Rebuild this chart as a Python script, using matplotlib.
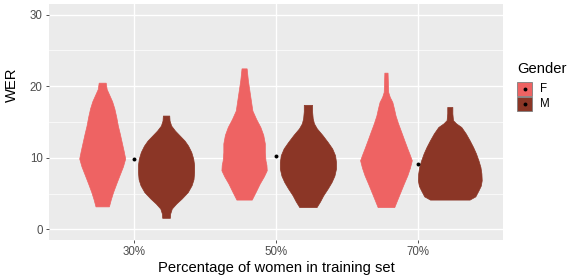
import numpy as np
import matplotlib
matplotlib.use('Agg')
import matplotlib.pyplot as plt
from matplotlib.patches import Rectangle
from matplotlib.lines import Line2D

plt.rcParams['font.family'] = ['Liberation Sans', 'DejaVu Sans']

# categories on the x axis
splits = ['30%', '50%', '70%']
genders = ['F', 'M']
colors = {'F': '#EE6363', 'M': '#8B3626'}

# mean WER per training split (black dots)
mean_wer = [9.8, 10.2, 9.1]

# violin outlines: WER levels and relative density (half width)
f30_wer = [3.2, 4.2, 5.2, 6.4, 7.55, 8.8, 9.9, 11.0, 12.2, 13.4, 14.5, 15.7, 16.9, 17.9, 18.7, 19.6, 20.5]
f30_dens = [0.21, 0.27, 0.34, 0.44, 0.54, 0.65, 0.72, 0.67, 0.61, 0.55, 0.49, 0.44, 0.38, 0.31, 0.23, 0.14, 0.11]
m30_wer = [1.6, 2.2, 2.9, 3.6, 4.3, 5.2, 6.15, 7.0, 8.0, 9.0, 9.9, 10.8, 11.7, 12.4, 13.1, 13.8, 14.5, 15.2, 15.9]
m30_dens = [0.12, 0.13, 0.18, 0.32, 0.49, 0.68, 0.80, 0.86, 0.88, 0.88, 0.85, 0.79, 0.69, 0.58, 0.43, 0.28, 0.16, 0.11, 0.10]
f50_wer = [4.15, 5.3, 6.4, 7.4, 8.25, 9.0, 9.65, 10.8, 12.0, 13.2, 14.3, 15.4, 16.6, 17.8, 19.0, 20.8, 22.5]
f50_dens = [0.24, 0.37, 0.49, 0.62, 0.71, 0.70, 0.67, 0.65, 0.65, 0.60, 0.51, 0.38, 0.26, 0.22, 0.18, 0.12, 0.08]
m50_wer = [3.1, 3.9, 4.75, 5.7, 6.6, 7.5, 8.5, 9.4, 10.35, 11.3, 12.2, 13.2, 14.1, 14.8, 15.5, 16.5, 17.4]
m50_dens = [0.27, 0.38, 0.48, 0.62, 0.74, 0.83, 0.88, 0.88, 0.85, 0.76, 0.62, 0.45, 0.28, 0.19, 0.15, 0.13, 0.13]
f70_wer = [3.1, 4.1, 5.2, 6.4, 7.55, 8.6, 9.65, 10.5, 11.3, 12.5, 13.6, 14.8, 15.9, 16.9, 17.8, 18.5, 19.2, 20.5, 21.9]
f70_dens = [0.26, 0.35, 0.45, 0.56, 0.67, 0.75, 0.81, 0.74, 0.67, 0.57, 0.48, 0.38, 0.30, 0.25, 0.20, 0.12, 0.07, 0.06, 0.05]
m70_wer = [4.15, 4.6, 5.45, 6.1, 6.85, 7.8, 8.7, 9.6, 10.6, 11.5, 12.45, 13.4, 14.3, 14.8, 15.25, 16.2, 17.1]
m70_dens = [0.62, 0.80, 0.90, 0.97, 1.0, 0.99, 0.96, 0.90, 0.82, 0.73, 0.62, 0.50, 0.36, 0.20, 0.10, 0.08, 0.08]

violins = {
    ('30%', 'F'): (f30_wer, f30_dens), ('30%', 'M'): (m30_wer, m30_dens),
    ('50%', 'F'): (f50_wer, f50_dens), ('50%', 'M'): (m50_wer, m50_dens),
    ('70%', 'F'): (f70_wer, f70_dens), ('70%', 'M'): (m70_wer, m70_dens),
}

DODGE = 0.225
HALF_WIDTH = 0.225


def draw_violin(ax, center, wer, dens, color):
    wer = np.asarray(wer)
    dens = np.asarray(dens) * HALF_WIDTH
    ax.fill_betweenx(wer, center - dens, center + dens, facecolor=color,
                     edgecolor=color, linewidth=0.5, zorder=3)


def main():
    fig = plt.figure(figsize=(5.76, 2.8), dpi=100)
    ax = fig.add_axes([49 / 576, 40 / 280, 454 / 576, 236 / 280])
    ax.set_facecolor('#EBEBEB')

    for i, split in enumerate(splits):
        x0 = i + 1
        for g, off in zip(genders, [-DODGE, DODGE]):
            wer, dens = violins[(split, g)]
            draw_violin(ax, x0 + off, wer, dens, colors[g])

    ax.scatter(np.arange(1, len(splits) + 1), mean_wer, s=8, color='black',
               linewidths=0, zorder=4)

    ax.set_xlim(0.4, 3.6)
    ax.set_ylim(-1.5, 31.5)
    ax.set_xticks([1, 2, 3])
    ax.set_xticklabels(splits)
    ax.set_yticks([0, 10, 20, 30])
    ax.set_yticks([5, 15, 25], minor=True)
    ax.grid(which='major', color='white', linewidth=1.0, zorder=0)
    ax.grid(which='minor', axis='y', color='white', linewidth=0.5, zorder=0)
    ax.set_axisbelow(True)
    for s in ax.spines.values():
        s.set_visible(False)
    ax.tick_params(which='major', length=2.5, width=0.6, color='#333333',
                   labelcolor='#4D4D4D', labelsize=8.3, pad=2)
    ax.tick_params(which='minor', length=0)

    ax.set_xlabel('Percentage of women in training set', fontsize=10.6, color='black', labelpad=2)
    ax.set_ylabel('WER', fontsize=10.6, color='black')
    ax.yaxis.set_label_coords(-0.066, 0.657)

    # legend
    fig.text(517 / 576, 1 - 69 / 280, 'Gender', fontsize=10.6, va='center', ha='left')
    for k, g in enumerate(genders):
        ky = 1 - (89 + k * 15) / 280
        fig.patches.append(Rectangle((517 / 576, ky - 7 / 280), 15 / 576, 14 / 280,
                                     transform=fig.transFigure, facecolor=colors[g],
                                     edgecolor='#7F7F7F', linewidth=0.6))
        fig.lines.append(Line2D([524.5 / 576], [ky], marker='o', markersize=2.8,
                                markeredgewidth=0, color='black', transform=fig.transFigure))
        fig.text(540 / 576, ky, g, fontsize=8.3, va='center', ha='left')

    fig.savefig('out.png', dpi=100)


if __name__ == "__main__":
    main()
